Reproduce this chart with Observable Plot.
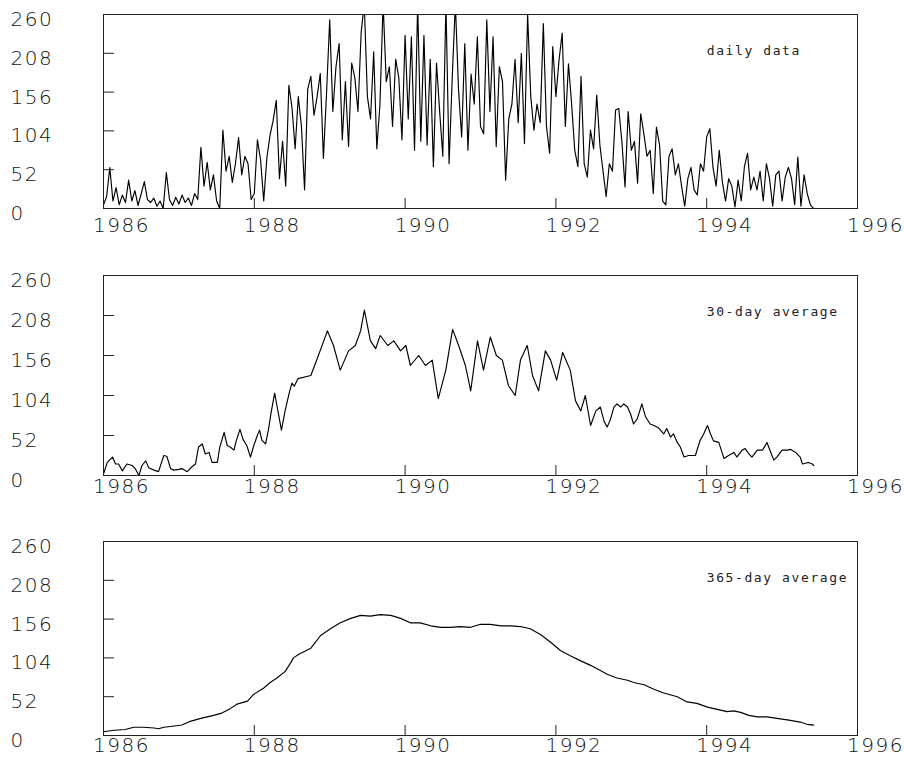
<!DOCTYPE html>
<html><head><meta charset="utf-8">
<script src="https://cdn.jsdelivr.net/npm/d3@7"></script>
<script src="https://cdn.jsdelivr.net/npm/@observablehq/plot@0.6"></script>
<style>
body{margin:0;background:#fff;}
#chart svg{display:block;}
</style></head><body><div id="chart"></div>
<script>
const yTicks = [0, 52, 104, 156, 208, 260];
const xTicks = [1986, 1988, 1990, 1992, 1994, 1996];
const panelLabels = ["daily data", "30-day average", "365-day average"];

// daily series sampled every 1/24 year starting 1986.0
const dailyStart = 1986;
const dailyStep = 1 / 24;
const dailyValues = [
  5,16,55,10,28,5,18,8,38,10,24,4,20,36,12,8,14,3,10,0,48,12,4,15,
  6,18,8,14,4,20,12,82,30,62,25,45,10,0,105,50,70,35,60,95,45,70,60,12,
  20,92,65,10,68,98,118,145,40,90,30,165,135,80,150,110,25,160,177,125,150,181,67,155,
  253,130,190,221,92,170,83,195,175,130,235,275,150,120,210,80,140,275,170,190,110,200,175,92,
  232,120,230,78,275,90,232,85,200,56,195,130,70,275,60,175,275,160,96,221,78,180,140,230,
  110,100,253,130,230,83,190,170,38,120,140,200,115,208,87,260,150,105,140,115,248,110,74,217,
  150,199,235,110,194,140,78,56,177,60,42,105,80,152,85,50,16,60,50,132,134,90,29,130,
  78,90,34,127,100,70,78,20,109,85,10,5,70,80,45,60,30,3,40,55,25,18,60,50,
  96,107,55,30,78,35,10,40,30,2,38,10,56,74,25,42,25,50,10,60,40,3,45,50,
  10,42,55,40,5,69,3,45,20,5,0
];

const avg30Years = [
  1986.00,1986.05,1986.12,1986.16,1986.20,1986.25,1986.31,1986.38,1986.42,1986.47,1986.51,1986.56,1986.60,1986.67,1986.73,1986.80,1986.84,1986.89,1986.93,1987.00,
  1987.04,1987.11,1987.18,1987.22,1987.26,1987.31,1987.35,1987.40,1987.44,1987.51,1987.54,1987.60,1987.64,1987.68,1987.73,1987.76,1987.81,1987.85,1987.90,1987.95,
  1987.99,1988.04,1988.07,1988.10,1988.15,1988.19,1988.22,1988.27,1988.30,1988.36,1988.41,1988.47,1988.50,1988.53,1988.58,1988.75,1988.85,1988.97,1989.05,1989.14,
  1989.25,1989.34,1989.41,1989.46,1989.54,1989.61,1989.67,1989.77,1989.85,1989.94,1990.01,1990.07,1990.18,1990.27,1990.36,1990.44,1990.54,1990.63,1990.71,1990.80,
  1990.87,1990.96,1991.04,1991.13,1991.21,1991.29,1991.37,1991.46,1991.53,1991.62,1991.69,1991.77,1991.86,1991.93,1992.01,1992.09,1992.19,1992.26,1992.33,1992.39,
  1992.46,1992.53,1992.59,1992.64,1992.68,1992.72,1992.77,1992.81,1992.86,1992.90,1992.95,1992.99,1993.03,1993.08,1993.14,1993.19,1993.25,1993.30,1993.36,1993.43,
  1993.47,1993.52,1993.56,1993.61,1993.65,1993.70,1993.76,1993.85,1993.91,1993.96,1994.01,1994.05,1994.09,1994.16,1994.23,1994.29,1994.36,1994.40,1994.47,1994.51,
  1994.56,1994.60,1994.67,1994.74,1994.80,1994.85,1994.89,1994.93,1995.00,1995.07,1995.11,1995.18,1995.24,1995.27,1995.31,1995.35,1995.40,1995.42
];
const avg30Values = [
  2,17,24,15,15,6,15,13,9,0,13,19,10,7,5,26,25,9,7,8,
  9,5,12,15,37,41,28,30,17,17,36,56,39,37,33,45,60,47,39,24,
  38,52,59,46,41,61,80,107,91,59,85,110,120,116,126,130,156,188,169,137,
  162,169,188,215,175,165,182,169,175,162,169,143,156,143,150,100,137,190,169,143,
  110,175,137,180,156,150,117,104,150,169,130,110,162,150,124,160,137,97,84,104,
  65,84,89,70,63,72,89,93,89,93,89,80,67,74,93,76,67,65,62,54,
  61,50,54,43,37,24,26,26,45,54,65,54,45,43,22,26,30,24,33,35,
  28,24,33,33,43,30,20,24,33,33,34,30,24,15,16,17,15,13
];

const avg365Years = [
  1986.00,1986.14,1986.29,1986.40,1986.53,1986.67,1986.73,1986.80,1986.89,1987.04,1987.15,1987.29,1987.46,1987.57,1987.68,1987.77,1987.91,1987.99,1988.13,1988.21,
  1988.30,1988.41,1988.48,1988.52,1988.59,1988.75,1988.88,1989.01,1989.14,1989.28,1989.41,1989.54,1989.67,1989.81,1989.94,1990.07,1990.20,1990.34,1990.47,1990.60,
  1990.73,1990.87,1991.00,1991.13,1991.27,1991.40,1991.53,1991.66,1991.80,1991.93,1992.06,1992.19,1992.33,1992.46,1992.59,1992.68,1992.81,1992.95,1993.03,1993.17,
  1993.30,1993.43,1993.61,1993.74,1993.87,1994.01,1994.14,1994.27,1994.36,1994.45,1994.56,1994.67,1994.80,1994.93,1995.07,1995.24,1995.33,1995.42
];
const avg365Values = [
  5,7,8,11,11,10,9,11,12,14,19,23,27,30,36,42,46,55,64,71,
  77,86,97,104,109,117,134,143,151,157,161,160,162,161,157,151,151,147,145,145,
  146,145,149,149,147,147,146,143,135,125,114,107,100,94,87,82,77,74,71,68,
  62,57,52,45,43,38,35,32,33,31,27,25,25,23,21,18,15,14
];

const dailyData = dailyValues.map((v, i) => ({x: dailyStart + i * dailyStep, y: v}));
const avg30Data = avg30Years.map((t, i) => ({x: t, y: avg30Values[i]}));
const avg365Data = avg365Years.map((t, i) => ({x: t, y: avg365Values[i]}));

const W = 904, ML = 103, MR = 47;
const innerW = W - ML - MR;
const numFont = "DejaVu Sans";
const monoFont = "DejaVu Sans Mono";

function panel(data, label, height, marginTop, marginBottom, xLabelDy) {
  const innerH = height - marginTop - marginBottom;
  return Plot.plot({
    width: W, height, marginLeft: ML, marginRight: MR, marginTop, marginBottom,
    x: {domain: [1986, 1996], axis: null},
    y: {domain: [0, 260], axis: null},
    style: {background: "white", overflow: "visible"},
    marks: [
      Plot.line(data, {x: "x", y: "y", stroke: "black", strokeWidth: 1.15, clip: true}),
      Plot.tickY(yTicks.slice(1, -1), {y: d => d, stroke: "#222", insetRight: innerW - 11}),
      Plot.tickX(xTicks.slice(1, -1), {x: d => d, stroke: "#222", insetTop: innerH - 10}),
      Plot.frame({stroke: "#222"}),
      Plot.text(yTicks, {y: d => d, text: d => String(d), frameAnchor: "left", dx: -93, dy: 5,
        textAnchor: "start", fontFamily: numFont, fontWeight: 200, fontSize: 20, fill: "#111"}),
      Plot.text(xTicks, {x: d => d, text: d => String(d), frameAnchor: "bottom", dx: 18, dy: xLabelDy,
        fontFamily: numFont, fontWeight: 200, fontSize: 20, fill: "#111"}),
      Plot.text([label], {x: () => 1994, text: d => d, frameAnchor: "top", dy: 40, textAnchor: "start",
        lineAnchor: "bottom", fontFamily: monoFont, fontSize: 13, fill: "#222"})
    ]
  });
}

const chart = document.getElementById("chart");
const svgs = [
  panel(dailyData, panelLabels[0], 260, 14, 52, 23),
  panel(avg30Data, panelLabels[1], 260, 15, 45, 17),
  panel(avg365Data, panelLabels[2], 245, 21, 30, 16)
];
for (const svg of svgs) {
  chart.append(svg);
  d3.select(svg).selectAll("g").each(function () {
    const ff = this.getAttribute("font-family");
    if (ff === numFont) d3.select(this).selectAll("text").attr("letter-spacing", "1.5");
    if (ff === monoFont) d3.select(this).selectAll("text").attr("letter-spacing", "1.6");
  });
}
</script></body></html>
